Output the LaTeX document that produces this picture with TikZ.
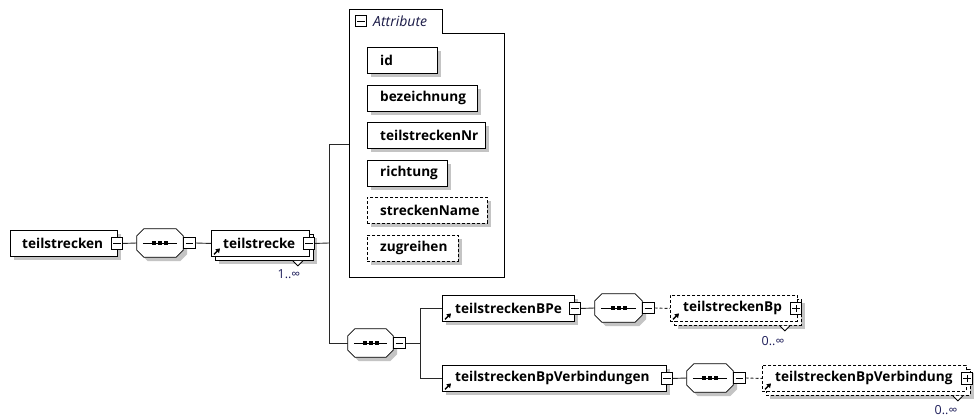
\documentclass[tikz,border=0pt]{standalone}
\usepackage{fontspec}
\setmainfont{Open Sans}
\usetikzlibrary{shadows,arrows.meta}
\definecolor{shd}{RGB}{196,196,196}
\definecolor{multc}{RGB}{30,30,90}
\definecolor{attrc}{RGB}{25,25,70}
\definecolor{conn}{RGB}{40,40,40}
% octagon outline around a (rectangular) node, offset by #2,#3 (canvas pt)
\newcommand\octpath[3]{([xshift=7pt+#2,yshift=#3]#1.north west) -- ([xshift=-7pt+#2,yshift=#3]#1.north east) -- ([xshift=#2,yshift=-7pt+#3]#1.north east) -- ([xshift=#2,yshift=7pt+#3]#1.south east) -- ([xshift=-7pt+#2,yshift=#3]#1.south east) -- ([xshift=7pt+#2,yshift=#3]#1.south west) -- ([xshift=#2,yshift=7pt+#3]#1.south west) -- ([xshift=#2,yshift=-7pt+#3]#1.north west) -- cycle}
\newcommand\seqdraw[1]{%
  \fill[shd] \octpath{#1}{4pt}{-4pt};
  \draw[draw=black,fill=white,line width=0.8pt] \octpath{#1}{0pt}{0pt};
  \draw[line width=0.8pt] ([xshift=6pt]#1.west) -- ([xshift=-6pt]#1.east);
  \foreach \dx in {-6,0,6} \fill ([xshift=\dx pt-2pt,yshift=-1.6pt]#1.center) rectangle ([xshift=\dx pt+2pt,yshift=1.6pt]#1.center);
}
\begin{document}
\begin{tikzpicture}[x=1pt,y=-1pt,
  shadowed/.style={drop shadow={shadow xshift=4pt,shadow yshift=-4pt,fill=shd,opacity=1}},
  elbox/.style={draw=black,fill=white,line width=0.9pt,inner sep=0pt,anchor=north west,minimum height=26pt},
  sbox/.style={elbox,shadowed},
  opt/.style={dash pattern=on 3pt off 2pt},
  lbl/.style={anchor=west,inner sep=0pt,text=black,font=\bfseries\fontsize{13.6}{15}\selectfont},
  multl/.style={inner sep=0pt,text=multc,font=\fontsize{12.5}{14}\selectfont},
  sq/.style={draw=black,fill=white,line width=0.8pt,minimum size=11.5pt,inner sep=0pt},
  minus/.style={sq,path picture={\draw[line width=0.8pt] ([xshift=2pt]path picture bounding box.west) -- ([xshift=-2pt]path picture bounding box.east);}},
  plus/.style={sq,path picture={\draw[line width=0.8pt] ([xshift=2pt]path picture bounding box.west) -- ([xshift=-2pt]path picture bounding box.east);
     \draw[line width=0.8pt] ([yshift=2pt]path picture bounding box.south) -- ([yshift=-2pt]path picture bounding box.north);}},
  seqn/.style={rectangle,inner sep=0pt,minimum height=28pt},
  cn/.style={draw=conn,line width=0.9pt},
  icon/.style={draw=black,line width=1.4pt,-{Triangle[length=4pt,width=5pt]}},
  notch/.style={draw=black,fill=white,line width=0.8pt},
]
\useasboundingbox (0,0) rectangle (975,419);
\fill[white] (0,0) rectangle (975,419);

% root element
\node[sbox,minimum width=107pt] (ts) at (10,230) {};
\node[lbl] (tsT) at ([xshift=12pt]ts.west) {teilstrecken};
\node[minus] (tsM) at ([xshift=-1pt]ts.east) {};

% sequence 1
\node[seqn,minimum width=46pt] (s1) at (160,243) {};
\seqdraw{s1}
\node[minus,anchor=west] (s1M) at (s1.east) {};

% teilstrecke (1..inf)
\node[sbox,minimum width=98pt] (tkB) at (215,234) {};
\node[elbox,minimum width=98pt] (tk) at (211,230) {};
\node[lbl] (tkT) at ([xshift=12pt]tk.west) {teilstrecke};
\draw[icon] ([xshift=3pt,yshift=2.5pt]tk.south west) -- ++(6,-6);
\node[minus] (tkM) at ([xshift=-1pt]tk.east) {};
\draw[notch] ([xshift=-21pt]tkB.south east) -- ++(5,5) -- ++(5,-5);
\node[multl] (tkMul) at (289,274) {1..∞};

% attribute group
\draw[draw=black,line width=0.9pt] (349,9) -- (442,9) -- (442,33) -- (504,33) -- (504,277) -- (349,277) -- cycle;
\node[minus] (attrM) at (361,21) {};
\node[anchor=west,inner sep=0pt,text=attrc,font=\itshape\fontsize{14}{16}\selectfont] (attrT) at (373,21) {Attribute};
\coordinate (attrW) at (349,144);

\node[sbox,minimum width=70pt] (aid) at (367,47) {};
\node[lbl] (aidT) at ([xshift=13pt]aid.west) {id};
\node[sbox,minimum width=110pt] (abez) at (367,85) {};
\node[lbl] (abezT) at ([xshift=13pt]abez.west) {bezeichnung};
\node[sbox,minimum width=118pt] (anr) at (367,122) {};
\node[lbl] (anrT) at ([xshift=13pt]anr.west) {teilstreckenNr};
\node[sbox,minimum width=80pt] (aric) at (367,160) {};
\node[lbl] (aricT) at ([xshift=13pt]aric.west) {richtung};
\node[sbox,opt,minimum width=120pt] (asn) at (367,197) {};
\node[lbl] (asnT) at ([xshift=13pt]asn.west) {streckenName};
\node[sbox,opt,minimum width=91pt] (azr) at (367,235) {};
\node[lbl] (azrT) at ([xshift=13pt]azr.west) {zugreihen};

% sequence 2
\node[seqn,minimum width=45pt] (s2) at (370.5,343) {};
\seqdraw{s2}
\node[minus,anchor=west] (s2M) at (s2.east) {};

% teilstreckenBPe
\node[sbox,minimum width=132pt] (bpe) at (442,295) {};
\node[lbl] (bpeT) at ([xshift=13pt]bpe.west) {teilstreckenBPe};
\draw[icon] ([xshift=3pt,yshift=2.5pt]bpe.south west) -- ++(6,-6);
\node[minus] (bpeM) at (bpe.east) {};

% sequence 3
\node[seqn,minimum width=47pt] (s3) at (618.5,308) {};
\seqdraw{s3}
\node[minus,anchor=west] (s3M) at (s3.east) {};

% teilstreckenBp (0..inf)
\node[sbox,opt,minimum width=127pt] (bpB) at (674,299) {};
\node[elbox,opt,minimum width=127pt] (bp) at (670,295) {};
\node[lbl] (bpT) at ([xshift=13pt]bp.west) {teilstreckenBp};
\draw[icon] ([xshift=3pt,yshift=2.5pt]bp.south west) -- ++(6,-6);
\node[plus] (bpP) at ([xshift=-2pt]bp.east) {};
\draw[notch] ([xshift=-22pt]bpB.south east) -- ++(5,5) -- ++(5,-5);
\node[multl] (bpMul) at (773,341) {0..∞};

% teilstreckenBpVerbindungen
\node[sbox,minimum width=224pt] (bpv) at (442,365) {};
\node[lbl] (bpvT) at ([xshift=13pt]bpv.west) {teilstreckenBpVerbindungen};
\draw[icon] ([xshift=3pt,yshift=2.5pt]bpv.south west) -- ++(6,-6);
\node[minus] (bpvM) at (bpv.east) {};

% sequence 4
\node[seqn,minimum width=46pt] (s4) at (710,378) {};
\seqdraw{s4}
\node[minus,anchor=west] (s4M) at (s4.east) {};

% teilstreckenBpVerbindung (0..inf)
\node[sbox,opt,minimum width=204pt] (vbB) at (766,369) {};
\node[elbox,opt,minimum width=204pt] (vb) at (762,365) {};
\node[lbl] (vbT) at ([xshift=13pt]vb.west) {teilstreckenBpVerbindung};
\draw[icon] ([xshift=3pt,yshift=2.5pt]vb.south west) -- ++(6,-6);
\node[plus] (vbP) at (vb.east) {};
\draw[notch] ([xshift=-18pt]vbB.south east) -- ++(5,5) -- ++(5,-5);
\node[multl] (vbMul) at (946,410) {0..∞};

% connectors
\coordinate (b1) at (329,243);
\coordinate (b2) at (420,343);
\draw[cn] (tsM.east) -- (s1.west);
\draw[cn] (s1M.east) -- (tk.west);
\draw[cn] (tkM.east) -- (b1);
\draw[cn] (b1) |- (attrW);
\draw[cn] (b1) |- (s2.west);
\draw[cn] (s2M.east) -- (b2);
\draw[cn] (b2) |- (bpe.west);
\draw[cn] (b2) |- (bpv.west);
\draw[cn] (bpeM.east) -- (s3.west);
\draw[cn,opt] (s3M.east) -- (bp.west);
\draw[cn] (bpvM.east) -- (s4.west);
\draw[cn,opt] (s4M.east) -- (vb.west);
\end{tikzpicture}
\end{document}
